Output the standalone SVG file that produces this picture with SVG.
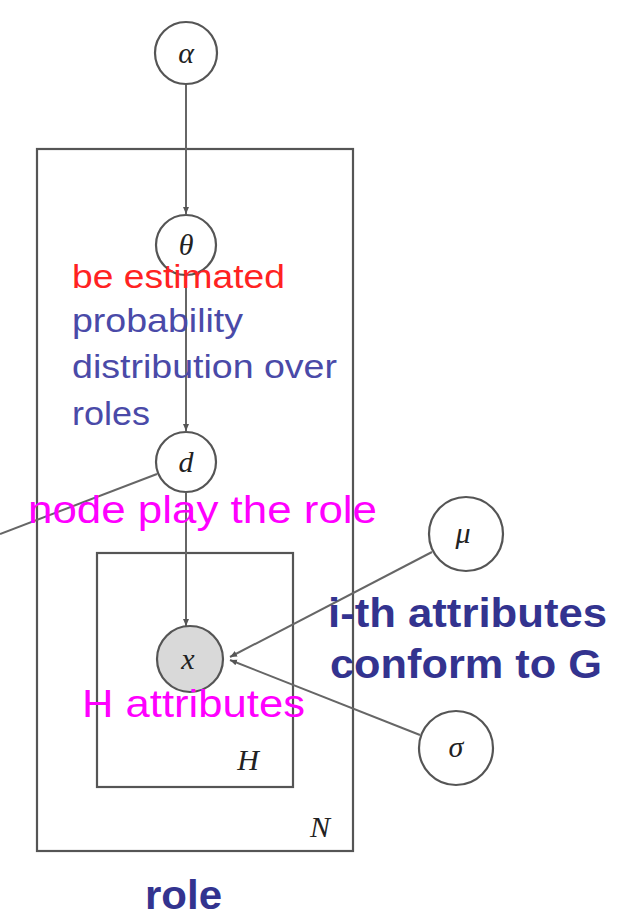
<svg xmlns="http://www.w3.org/2000/svg" width="621" height="920" viewBox="0 0 621 920">
<style>
.c{fill:#fff;stroke:#555;stroke-width:2.2}
.p{fill:none;stroke:#555;stroke-width:2.2}
.e{stroke:#666;stroke-width:2;fill:none}
.g{font-family:"Liberation Serif",serif;font-style:italic;font-size:30px;fill:#222;text-anchor:middle}
.t{font-family:"Liberation Sans",Arial,sans-serif;font-size:34px}
.m{font-family:"Liberation Sans",Arial,sans-serif;font-size:38px;fill:#f0f}
.b{font-family:"Liberation Sans",Arial,sans-serif;font-weight:bold;font-size:40px;fill:#33338f}
</style>
<defs>
<marker id="a" markerWidth="8" markerHeight="8" refX="7" refY="4" orient="auto" markerUnits="userSpaceOnUse">
<path d="M0,1 L7,4 L0,7 z" fill="#555"/>
</marker>
</defs>
<g id="plates">
<rect id="plateN" class="p" x="37" y="149" width="316" height="702"/>
<rect id="plateH" class="p" x="97" y="553" width="196" height="234"/>
<text class="g" x="248" y="770">H</text>
<text class="g" x="320" y="837">N</text>
</g>
<g id="edges">
<line class="e" x1="186" y1="84" x2="186" y2="214" marker-end="url(#a)"/>
<line class="e" x1="186" y1="275" x2="186" y2="431" marker-end="url(#a)"/>
<line class="e" x1="186" y1="493" x2="186" y2="626" marker-end="url(#a)"/>
<line class="e" x1="0" y1="534" x2="157" y2="474"/>
<line class="e" x1="432" y1="552" x2="230" y2="657" marker-end="url(#a)"/>
<line class="e" x1="420" y1="735" x2="230" y2="660" marker-end="url(#a)"/>
</g>
<g id="alpha"><circle class="c" cx="186" cy="53" r="31"/><text class="g" x="186" y="63">α</text></g>
<g id="theta"><circle class="c" cx="186" cy="245" r="30"/><text class="g" x="186" y="255">θ</text></g>
<g id="d"><circle class="c" cx="186" cy="462" r="30"/><text class="g" x="186" y="472">d</text></g>
<g id="x"><circle cx="190" cy="659" r="33" fill="#d9d9d9" stroke="#555" stroke-width="2.2"/><text class="g" x="188" y="669">x</text></g>
<g id="mu"><circle class="c" cx="466" cy="534" r="37"/><text class="g" x="463" y="543" font-size="26">μ</text></g>
<g id="sigma"><circle class="c" cx="456" cy="748" r="37"/><text class="g" x="456" y="757" font-size="26">σ</text></g>
<g id="labels">
<text class="t" x="72" y="288" fill="#f22" textLength="213" lengthAdjust="spacingAndGlyphs">be estimated</text>
<text class="t" x="72" y="332" fill="#4a4aa8" textLength="171" lengthAdjust="spacingAndGlyphs">probability</text>
<text class="t" x="72" y="378" fill="#4a4aa8" textLength="265" lengthAdjust="spacingAndGlyphs">distribution over</text>
<text class="t" x="72" y="425" fill="#4a4aa8" textLength="78" lengthAdjust="spacingAndGlyphs">roles</text>
<text class="m" x="28" y="523" textLength="349" lengthAdjust="spacingAndGlyphs">node play the role</text>
<text class="m" x="82" y="717" textLength="223" lengthAdjust="spacingAndGlyphs">H attributes</text>
<text class="b" x="328" y="627" textLength="279" lengthAdjust="spacingAndGlyphs">i-th attributes</text>
<text class="b" x="330" y="678" textLength="272" lengthAdjust="spacingAndGlyphs">conform to G</text>
<text class="b" x="145" y="909" font-size="38" textLength="77" lengthAdjust="spacingAndGlyphs">role</text>
</g>
</svg>
